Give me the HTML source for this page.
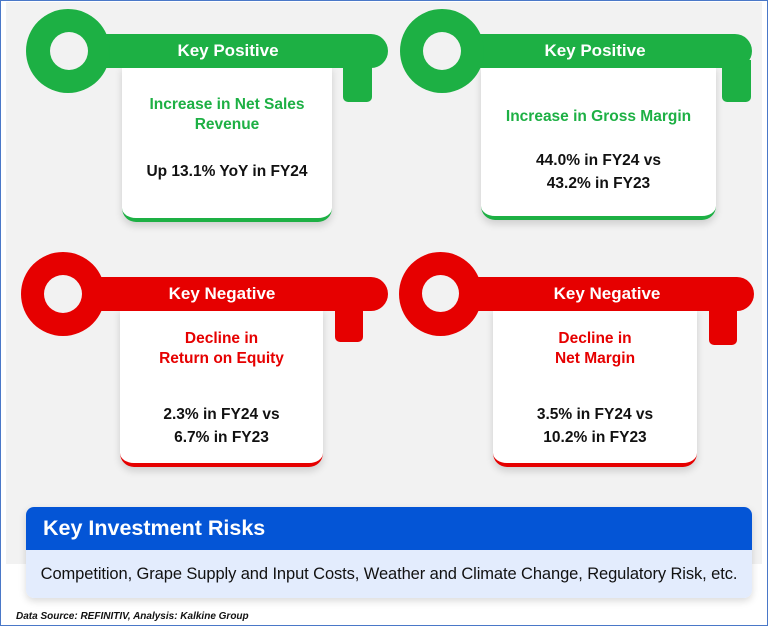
<!DOCTYPE html>
<html><head><meta charset="utf-8"><style>
*{margin:0;padding:0;box-sizing:border-box}
body{width:768px;height:626px;background:#fff;position:relative;overflow:hidden;font-family:"Liberation Sans",sans-serif}
.frame{position:absolute;left:0;top:0;width:768px;height:626px;border:1px solid #4a78c8}
.bg{position:absolute;left:6px;top:2px;width:756px;height:562px;background:#f2f2f2}
.ring{position:absolute;border-radius:50%}
.hole{position:absolute;border-radius:50%;background:#f2f2f2}
.bar{position:absolute;border-radius:0 17px 17px 0;color:#fff;font-weight:bold;font-size:17px;text-align:center;line-height:34px}
.tab{position:absolute;border-radius:0 0 5px 5px}
.card{position:absolute;background:#fff;border-radius:0 0 14px 14px;box-shadow:0 4px 8px rgba(0,0,0,.15);text-align:center;font-weight:bold}
.t1{font-size:15.5px;line-height:20px}
.t2{font-size:15.5px;line-height:23px;color:#111}
.g{background:#1db044}.r{background:#e60000}
</style></head><body>
<div class="bg"></div>

<!-- key 1 -->
<div class="tab g" style="left:343px;top:60px;width:29px;height:42px"></div>
<div class="card" style="left:122px;top:66px;width:210px;height:156px;border-bottom:4px solid #1db044">
<div class="t1" style="color:#1db044;margin-top:29px">Increase in Net Sales<br>Revenue</div>
<div class="t2" style="margin-top:25px">Up 13.1% YoY in FY24</div></div>
<div class="bar g" style="left:90px;top:34px;width:298px;height:34px"><span style="margin-left:-22px">Key Positive</span></div>
<div class="ring g" style="left:26px;top:9px;width:84px;height:84px"></div>
<div class="hole" style="left:50px;top:32px;width:38px;height:38px"></div>

<!-- key 2 -->
<div class="tab g" style="left:722px;top:60px;width:29px;height:42px"></div>
<div class="card" style="left:481px;top:66px;width:235px;height:154px;border-bottom:4px solid #1db044">
<div class="t1" style="color:#1db044;margin-top:41px">Increase in Gross Margin</div>
<div class="t2" style="margin-top:22px">44.0% in FY24 vs<br>43.2% in FY23</div></div>
<div class="bar g" style="left:440px;top:34px;width:312px;height:34px"><span style="margin-left:-2px">Key Positive</span></div>
<div class="ring g" style="left:400px;top:9px;width:84px;height:84px"></div>
<div class="hole" style="left:423px;top:32px;width:38px;height:38px"></div>

<!-- key 3 -->
<div class="tab r" style="left:335px;top:300px;width:28px;height:42px"></div>
<div class="card" style="left:120px;top:308px;width:203px;height:159px;border-bottom:4px solid #e60000">
<div class="t1" style="color:#e60000;margin-top:21px">Decline in<br>Return on Equity</div>
<div class="t2" style="margin-top:34px">2.3% in FY24 vs<br>6.7% in FY23</div></div>
<div class="bar r" style="left:62px;top:277px;width:326px;height:34px"><span style="margin-left:-6px">Key Negative</span></div>
<div class="ring r" style="left:21px;top:252px;width:84px;height:84px"></div>
<div class="hole" style="left:44px;top:275px;width:38px;height:38px"></div>

<!-- key 4 -->
<div class="tab r" style="left:709px;top:300px;width:28px;height:45px"></div>
<div class="card" style="left:493px;top:308px;width:204px;height:159px;border-bottom:4px solid #e60000">
<div class="t1" style="color:#e60000;margin-top:21px">Decline in<br>Net Margin</div>
<div class="t2" style="margin-top:34px">3.5% in FY24 vs<br>10.2% in FY23</div></div>
<div class="bar r" style="left:440px;top:277px;width:314px;height:34px"><span style="margin-left:20px">Key Negative</span></div>
<div class="ring r" style="left:399px;top:252px;width:83px;height:84px"></div>
<div class="hole" style="left:422px;top:275px;width:37px;height:37px"></div>

<!-- risks -->
<div style="position:absolute;left:26px;top:507px;width:726px;height:91px;border-radius:8px;overflow:hidden;box-shadow:0 3px 8px rgba(0,0,0,.15)">
<div style="height:43px;background:#0455d6;color:#fff;font-weight:bold;font-size:21.5px;line-height:43px;padding-left:17px">Key Investment Risks</div>
<div style="height:48px;background:#e3ecfd;color:#111;font-size:16.5px;line-height:48px;text-align:center;white-space:nowrap;letter-spacing:-0.1px">Competition, Grape Supply and Input Costs, Weather and Climate Change, Regulatory Risk, etc.</div>
</div>
<div style="position:absolute;left:16px;top:611px;font-size:10px;font-weight:bold;font-style:italic;color:#111">Data Source: REFINITIV, Analysis: Kalkine Group</div>
<div class="frame"></div>
</body></html>
